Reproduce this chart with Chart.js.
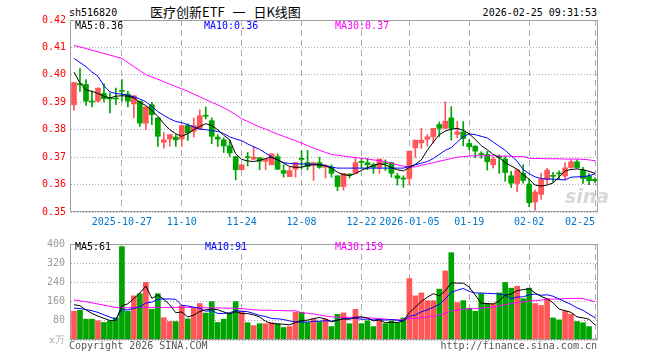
<!DOCTYPE html>
<html>
<head>
<meta charset="utf-8">
<script src="https://cdn.jsdelivr.net/npm/chart.js@4.4.1/dist/chart.umd.min.js"></script>
<style>
body { margin: 0; background: #fff; width: 660px; height: 360px; position: relative; overflow: hidden; font-family: "DejaVu Sans Mono", monospace; }
.t { position: absolute; white-space: nowrap; font-size: 10px; line-height: 12px; }
canvas { position: absolute; left: 0; }
</style>
</head>
<body>
<div class="t" style="left:69px;top:7px;">sh516820</div>
<div class="t" style="left:150px;top:4px;font-family:'Noto Sans CJK SC';font-size:13px;line-height:16px;word-spacing:5px;">医疗创新ETF 一 日K线图</div>
<div class="t" style="right:63px;top:7px;">2026-02-25 09:31:53</div>

<canvas id="kline" width="660" height="232" style="top:0"></canvas>
<canvas id="vol" width="660" height="128" style="top:232px"></canvas>

<div class="t" style="left:75px;top:20px;color:#000">MA5:0.36</div>
<div class="t" style="left:204px;top:20px;color:#0000ff">MA10:0.36</div>
<div class="t" style="left:335px;top:20px;color:#ff00ff">MA30:0.37</div>
<div class="t" style="left:565px;top:185px;font-family:'DejaVu Sans';font-weight:bold;font-style:italic;font-size:19px;line-height:22px;color:#d8d8d8">sina</div>

<div class="t" style="left:75px;top:241px;color:#000">MA5:61</div>
<div class="t" style="left:205px;top:241px;color:#0000ff">MA10:91</div>
<div class="t" style="left:335px;top:241px;color:#ff00ff">MA30:159</div>

<div class="t" style="left:49px;top:334px;color:#aaa;font-family:'DejaVu Serif'">x万</div>
<div class="t" style="left:69px;top:340px;color:#555">Copyright 2026 SINA.COM</div>
<div class="t" style="right:63px;top:340px;color:#555">http://finance.sina.com.cn</div>

<script>
// trading days
const dates = [
  '2025-10-15','2025-10-16','2025-10-17','2025-10-20','2025-10-21','2025-10-22','2025-10-23','2025-10-24',
  '2025-10-27','2025-10-28','2025-10-29','2025-10-30','2025-10-31',
  '2025-11-03','2025-11-04','2025-11-05','2025-11-06','2025-11-07',
  '2025-11-10','2025-11-11','2025-11-12','2025-11-13','2025-11-14',
  '2025-11-17','2025-11-18','2025-11-19','2025-11-20','2025-11-21',
  '2025-11-24','2025-11-25','2025-11-26','2025-11-27','2025-11-28',
  '2025-12-01','2025-12-02','2025-12-03','2025-12-04','2025-12-05',
  '2025-12-08','2025-12-09','2025-12-10','2025-12-11','2025-12-12',
  '2025-12-15','2025-12-16','2025-12-17','2025-12-18','2025-12-19',
  '2025-12-22','2025-12-23','2025-12-24','2025-12-25','2025-12-26',
  '2025-12-29','2025-12-30','2025-12-31',
  '2026-01-05','2026-01-06','2026-01-07','2026-01-08','2026-01-09',
  '2026-01-12','2026-01-13','2026-01-14','2026-01-15','2026-01-16',
  '2026-01-19','2026-01-20','2026-01-21','2026-01-22','2026-01-23',
  '2026-01-26','2026-01-27','2026-01-28','2026-01-29','2026-01-30',
  '2026-02-02','2026-02-03','2026-02-04','2026-02-05','2026-02-06',
  '2026-02-09','2026-02-10','2026-02-11','2026-02-12','2026-02-13',
  '2026-02-24','2026-02-25'
];

const tickDates = ['2025-10-27','2025-11-10','2025-11-24','2025-12-08','2025-12-22','2026-01-05','2026-01-19','2026-02-02','2026-02-25'];
const tickText  = ['2025-10-27','11-10','11-24','12-08','12-22','2026-01-05','01-19','02-02','02-25     '];

const open = [
  0.3891,0.3968,0.3965,0.3903,0.3904,0.3932,0.3913,0.3913,0.3941,0.3930,
  0.3894,0.3904,0.3824,0.3891,0.3843,0.3754,0.3766,0.3773,0.3766,0.3815,
  0.3794,0.3802,0.3850,0.3833,0.3773,0.3763,0.3741,0.3702,0.3654,0.3700,
  0.3693,0.3698,0.3685,0.3672,0.3702,0.3651,0.3629,0.3656,0.3694,0.3680,
  0.3672,0.3680,0.3663,0.3663,0.3632,0.3593,0.3636,0.3641,0.3683,0.3680,
  0.3672,0.3663,0.3678,0.3680,0.3632,0.3623,0.3622,0.3734,0.3752,0.3765,
  0.3774,0.3819,0.3805,0.3843,0.3783,0.3792,0.3750,0.3740,0.3711,0.3710,
  0.3672,0.3701,0.3693,0.3632,0.3604,0.3641,0.3602,0.3537,0.3564,0.3619,
  0.3632,0.3641,0.3631,0.3662,0.3683,0.3653,0.3631,0.3619
];
const high = [
  0.3972,0.4023,0.3983,0.3941,0.3952,0.3967,0.3934,0.3952,0.3983,0.3940,
  0.3924,0.3904,0.3883,0.3900,0.3843,0.3790,0.3782,0.3782,0.3815,0.3822,
  0.3843,0.3873,0.3883,0.3843,0.3782,0.3770,0.3763,0.3702,0.3672,0.3717,
  0.3739,0.3698,0.3693,0.3712,0.3712,0.3672,0.3663,0.3680,0.3724,0.3724,
  0.3680,0.3700,0.3672,0.3672,0.3632,0.3641,0.3641,0.3700,0.3695,0.3695,
  0.3678,0.3693,0.3690,0.3680,0.3641,0.3632,0.3722,0.3762,0.3805,0.3782,
  0.3805,0.3828,0.3902,0.3884,0.3830,0.3830,0.3765,0.3742,0.3720,0.3721,
  0.3700,0.3708,0.3702,0.3648,0.3654,0.3672,0.3620,0.3580,0.3641,0.3659,
  0.3645,0.3650,0.3679,0.3690,0.3690,0.3663,0.3640,0.3625
];
const low = [
  0.3871,0.3940,0.3889,0.3883,0.3901,0.3901,0.3861,0.3891,0.3904,0.3883,
  0.3843,0.3812,0.3800,0.3818,0.3739,0.3733,0.3739,0.3739,0.3739,0.3761,
  0.3773,0.3802,0.3839,0.3749,0.3739,0.3717,0.3702,0.3617,0.3654,0.3668,
  0.3690,0.3654,0.3654,0.3672,0.3654,0.3627,0.3629,0.3627,0.3656,0.3654,
  0.3615,0.3659,0.3624,0.3627,0.3578,0.3580,0.3624,0.3641,0.3659,0.3654,
  0.3641,0.3641,0.3651,0.3627,0.3598,0.3590,0.3600,0.3699,0.3732,0.3740,
  0.3751,0.3774,0.3805,0.3762,0.3771,0.3741,0.3726,0.3698,0.3696,0.3653,
  0.3660,0.3641,0.3612,0.3590,0.3573,0.3605,0.3519,0.3507,0.3546,0.3602,
  0.3609,0.3619,0.3617,0.3660,0.3660,0.3604,0.3600,0.3608
];
const close = [
  0.3972,0.3964,0.3904,0.3901,0.3952,0.3913,0.3912,0.3912,0.3940,0.3904,
  0.3924,0.3824,0.3883,0.3855,0.3776,0.3763,0.3782,0.3763,0.3815,0.3788,
  0.3815,0.3851,0.3849,0.3776,0.3766,0.3741,0.3715,0.3654,0.3672,0.3698,
  0.3700,0.3685,0.3693,0.3712,0.3656,0.3641,0.3651,0.3680,0.3692,0.3666,
  0.3680,0.3663,0.3666,0.3641,0.3593,0.3641,0.3634,0.3680,0.3681,0.3672,
  0.3663,0.3693,0.3676,0.3641,0.3623,0.3620,0.3722,0.3762,0.3762,0.3774,
  0.3805,0.3805,0.3831,0.3805,0.3792,0.3768,0.3738,0.3722,0.3710,0.3683,
  0.3693,0.3699,0.3644,0.3605,0.3654,0.3615,0.3534,0.3573,0.3619,0.3653,
  0.3630,0.3639,0.3661,0.3683,0.3662,0.3622,0.3614,0.3614
];

const ma5 = [
  0.4010,0.3970,0.3945,0.3940,0.3932,0.3922,0.3916,0.3922,0.3924,0.3922,
  0.3916,0.3900,0.3888,0.3870,0.3849,0.3822,0.3800,0.3785,0.3776,0.3786,
  0.3800,0.3812,0.3822,0.3815,0.3800,0.3780,0.3763,0.3712,0.3692,0.3686,
  0.3684,0.3688,0.3695,0.3700,0.3690,0.3678,0.3666,0.3663,0.3663,0.3670,
  0.3672,0.3672,0.3668,0.3660,0.3645,0.3636,0.3633,0.3640,0.3652,0.3661,
  0.3670,0.3676,0.3672,0.3662,0.3654,0.3650,0.3662,0.3674,0.3690,0.3725,
  0.3755,0.3782,0.3795,0.3802,0.3805,0.3798,0.3785,0.3765,0.3742,0.3727,
  0.3710,0.3698,0.3680,0.3668,0.3656,0.3636,0.3620,0.3598,0.3595,0.3598,
  0.3606,0.3628,0.3650,0.3655,0.3657,0.3654,0.3648,0.3641
];
const ma10 = [
  0.4060,0.4045,0.4030,0.4010,0.3995,0.3960,0.3938,0.3932,0.3930,0.3925,
  0.3920,0.3912,0.3902,0.3885,0.3866,0.3852,0.3840,0.3830,0.3826,0.3818,
  0.3810,0.3802,0.3800,0.3797,0.3794,0.3786,0.3774,0.3766,0.3760,0.3748,
  0.3738,0.3728,0.3715,0.3700,0.3690,0.3680,0.3677,0.3676,0.3675,0.3675,
  0.3674,0.3673,0.3670,0.3664,0.3660,0.3660,0.3660,0.3660,0.3660,0.3660,
  0.3660,0.3660,0.3660,0.3660,0.3660,0.3660,0.3666,0.3672,0.3678,0.3684,
  0.3695,0.3710,0.3725,0.3735,0.3755,0.3775,0.3785,0.3782,0.3776,0.3770,
  0.3755,0.3740,0.3725,0.3705,0.3685,0.3655,0.3640,0.3628,0.3622,0.3620,
  0.3620,0.3618,0.3617,0.3627,0.3628,0.3629,0.3632,0.3639
];
const ma30 = [
  0.4107,0.4102,0.4096,0.4090,0.4084,0.4078,0.4072,0.4066,0.4060,0.4045,
  0.4030,0.4015,0.4001,0.3992,0.3984,0.3975,0.3966,0.3957,0.3949,0.3940,
  0.3930,0.3920,0.3910,0.3900,0.3891,0.3880,0.3868,0.3855,0.3840,0.3830,
  0.3820,0.3810,0.3802,0.3793,0.3784,0.3776,0.3768,0.3760,0.3751,0.3742,
  0.3733,0.3725,0.3717,0.3710,0.3707,0.3704,0.3701,0.3698,0.3696,0.3693,
  0.3690,0.3687,0.3684,0.3678,0.3672,0.3667,0.3664,0.3665,0.3670,0.3675,
  0.3680,0.3685,0.3690,0.3695,0.3700,0.3702,0.3704,0.3705,0.3705,0.3705,
  0.3705,0.3704,0.3704,0.3703,0.3702,0.3702,0.3696,0.3695,0.3695,0.3694,
  0.3694,0.3694,0.3693,0.3693,0.3693,0.3692,0.3690,0.3687
];

// volume, 万
const volume = [
  120,124,87,87,80,73,80,92,389,120,
  184,193,240,128,193,93,77,77,144,88,
  133,152,112,160,73,87,111,160,120,72,
  60,68,68,73,67,52,56,116,116,73,
  87,76,87,56,107,113,68,128,68,80,
  56,87,68,80,73,92,256,184,196,164,
  164,212,288,364,156,164,132,120,193,152,
  152,196,240,216,224,172,216,152,144,172,
  92,84,120,108,77,72,56,4
];
// MA values at the start (they depend on days before the window)
const volMa5Head = [147,143,125,111];
const volMa10Head = [133,131,127,122,115,105,95,88,127];
const volMa30Head = [167,163,159,155,150,145,140,136,135,134,136,136,136,136,136,136,136,136,136,136,136,135,134,134,134,133,133,132,131];

const RED = '#ff5757';
const GREEN = '#00a400';
const FONT = { family: 'DejaVu Sans Mono', size: 10 };

function movingAvg(vals, n, head) {
  return vals.map((v, i) => {
    if (i < head.length) return head[i];
    let s = 0;
    for (let j = i - n + 1; j <= i; j++) s += vals[j];
    return s / n;
  });
}

const colors = close.map((c, i) => c >= open[i] ? RED : GREEN);
const isTick = i => tickDates.includes(dates[i]);

const frame = {
  id: 'frame',
  afterDraw(chart) {
    const a = chart.chartArea, ctx = chart.ctx;
    ctx.save();
    ctx.strokeStyle = '#a0a0a0';
    ctx.lineWidth = 1;
    ctx.strokeRect(Math.round(a.left) - 0.5, Math.round(a.top) + 0.5, Math.round(a.right - a.left), Math.round(a.bottom - a.top) - 1);
    ctx.restore();
  }
};

function xScale(showLabels) {
  return {
    offset: true,
    grid: {
      offset: false,
      drawTicks: false,
      color: ctx => isTick(ctx.index) ? '#aaaaaa' : 'rgba(0,0,0,0)',
    },
    border: { display: false, dash: [6, 4] },
    ticks: {
      display: showLabels,
      autoSkip: false,
      maxRotation: 0,
      padding: 4,
      color: '#0077cc',
      font: FONT,
      callback: (v, i) => {
        const k = tickDates.indexOf(dates[i]);
        return k >= 0 ? tickText[k] : '';
      }
    },
    afterFit: s => { s.height = showLabels ? 20 : 0; }
  };
}

const line = (data, color) => ({
  type: 'line', data: data, borderColor: color, borderWidth: 1,
  pointRadius: 0, tension: 0, fill: false
});

new Chart(document.getElementById('kline'), {
  type: 'bar',
  data: {
    labels: dates,
    datasets: [
      line(ma5, '#000000'),
      line(ma10, '#0000ff'),
      line(ma30, '#ff00ff'),
      {
        data: dates.map((d, i) => [open[i], close[i]]),
        backgroundColor: colors,
        barThickness: 5,
        minBarLength: 1,
        grouped: false
      },
      {
        data: dates.map((d, i) => [low[i], high[i]]),
        backgroundColor: colors,
        barThickness: 1,
        grouped: false
      }
    ]
  },
  options: {
    responsive: false,
    animation: false,
    events: [],
    layout: { padding: { left: 0, right: 62, top: 20, bottom: 0 } },
    plugins: { legend: { display: false }, tooltip: { enabled: false } },
    scales: {
      x: xScale(true),
      y: {
        min: 0.35,
        max: 0.42,
        grid: { drawTicks: false, color: '#a8a8a8' },
        border: { display: false, dash: [1, 2] },
        ticks: {
          stepSize: 0.01,
          padding: 5,
          color: '#ff0000',
          font: FONT,
          callback: v => v.toFixed(2)
        },
        afterFit: s => { s.width = 71; }
      }
    }
  },
  plugins: [frame]
});

new Chart(document.getElementById('vol'), {
  type: 'bar',
  data: {
    labels: dates,
    datasets: [
      line(movingAvg(volume, 5, volMa5Head), '#000000'),
      line(movingAvg(volume, 10, volMa10Head), '#0000ff'),
      line(movingAvg(volume, 30, volMa30Head), '#ff00ff'),
      {
        data: volume,
        backgroundColor: colors,
        barThickness: 5,
        grouped: false
      }
    ]
  },
  options: {
    responsive: false,
    animation: false,
    events: [],
    layout: { padding: { left: 0, right: 62, top: 8, bottom: 20 } },
    plugins: { legend: { display: false }, tooltip: { enabled: false } },
    scales: {
      x: xScale(false),
      y: {
        min: 0,
        max: 400,
        grid: { drawTicks: false, color: '#a8a8a8' },
        border: { display: false, dash: [1, 2] },
        ticks: {
          stepSize: 80,
          padding: 6,
          color: '#999999',
          font: FONT,
          callback: v => v === 0 ? '' : v
        },
        afterFit: s => { s.width = 71; }
      }
    }
  },
  plugins: [frame]
});
</script>
</body>
</html>
